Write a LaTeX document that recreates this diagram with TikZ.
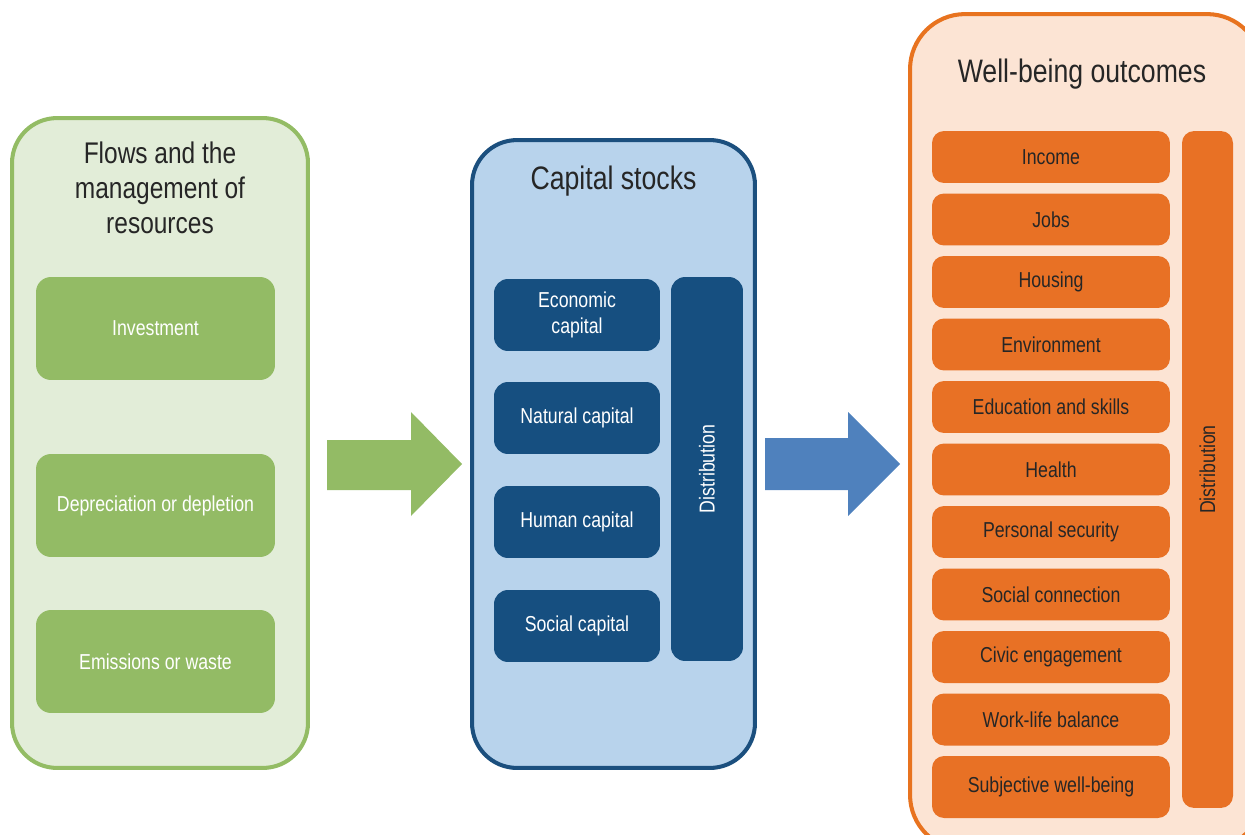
\documentclass[tikz,border=0pt]{standalone}
\usepackage{fontspec}
\setmainfont[FakeStretch=0.82]{Liberation Sans}
\usepackage{xcolor}
\definecolor{greenline}{HTML}{93BC64}
\definecolor{greenback}{HTML}{E2EDD8}
\definecolor{greenbox}{HTML}{93BB65}
\definecolor{blueline}{HTML}{1B4F7E}
\definecolor{blueback}{HTML}{B8D3EC}
\definecolor{bluebox}{HTML}{164F80}
\definecolor{bluearrow}{HTML}{4F81BD}
\definecolor{orangeline}{HTML}{E8731F}
\definecolor{orangeback}{HTML}{FCE4D4}
\definecolor{orangebox}{HTML}{E87125}
\definecolor{ink}{HTML}{262626}
\tikzset{
  panel/.style={rounded corners=0.9cm, line width=2.3pt, inner sep=0pt},
  ptitle/.style={text=ink, font=\fontsize{18.5}{22}\selectfont, align=center},
  itemtxt/.style={font=\fontsize{12.3}{14.8}\selectfont, align=center, inner sep=0pt},
  itemG/.style={itemtxt, fill=greenbox, text=white, rounded corners=0.3cm, minimum width=4.78cm, minimum height=2.06cm},
  itemB/.style={itemtxt, fill=bluebox, text=white, rounded corners=0.28cm, minimum width=3.32cm, minimum height=1.44cm},
  itemO/.style={itemtxt, fill=orangebox, text=ink, rounded corners=0.24cm, minimum width=4.76cm, minimum height=1.04cm},
  arrowG/.style={fill=greenbox},
  arrowB/.style={fill=bluearrow}
}
\begin{document}
\begin{tikzpicture}[x=0.02cm, y=-0.02cm]
  \useasboundingbox (0,0) rectangle (1245,835);
  \clip (0,0) rectangle (1245,835);

  % left panel
  \node[panel, draw=greenline, fill=greenback, minimum width=5.92cm, minimum height=13cm] (flows) at (160,443) {};
  \node[ptitle, font=\fontsize{17}{19.9}\selectfont] (flowsT) at (160,188) {Flows and the\\management of\\resources};
  \node[itemG] (invest) at (155.5,328.5) {Investment};
  \node[itemG] (deprec) at (155.5,505.5) {Depreciation or depletion};
  \node[itemG] (emiss) at (155.5,661.5) {Emissions or waste};

  \fill[arrowG] (327,440) -- (411,440) -- (411,412) -- (462,464) -- (411,516) -- (411,490) -- (327,490) -- cycle;

  % middle panel
  \node[panel, draw=blueline, fill=blueback, minimum width=5.66cm, minimum height=12.56cm] (stocks) at (613.5,454) {};
  \node[ptitle] (stocksT) at (613.5,181) {Capital stocks};
  \node[itemB] (econ) at (577,315) {Economic\\capital};
  \node[itemB] (natur) at (577,418) {Natural capital};
  \node[itemB] (human) at (577,522) {Human capital};
  \node[itemB] (social) at (577,626) {Social capital};
  \node[itemB, minimum width=1.44cm, minimum height=7.68cm] (distB) at (707,469) {};
  \node[itemtxt, text=white, rotate=90] at (distB.center) {Distribution};

  \fill[arrowB] (765,438) -- (848,438) -- (848,412) -- (900,464) -- (848,516) -- (848,490) -- (765,490) -- cycle;

  % right panel
  \node[panel, rounded corners=1.1cm, draw=orangeline, fill=orangeback, minimum width=7.04cm, minimum height=16.72cm] (wellb) at (1086,432) {};
  \node[ptitle] (wellbT) at (1082,74) {Well-being outcomes};
  \node[itemO] (income) at (1051,157) {Income};
  \node[itemO] (jobs) at (1051,219.5) {Jobs};
  \node[itemO] (housing) at (1051,282) {Housing};
  \node[itemO] (envir) at (1051,344.5) {Environment};
  \node[itemO] (educ) at (1051,407) {Education and skills};
  \node[itemO] (health) at (1051,469.5) {Health};
  \node[itemO] (secur) at (1051,532) {Personal security};
  \node[itemO] (connect) at (1051,594.5) {Social connection};
  \node[itemO] (civic) at (1051,657) {Civic engagement};
  \node[itemO] (worklife) at (1051,719.5) {Work-life balance};
  \node[itemO, minimum height=1.24cm] (subject) at (1051,787) {Subjective well-being};
  \node[itemO, minimum width=1.02cm, minimum height=13.54cm] (distO) at (1207.5,469.5) {};
  \node[itemtxt, text=ink, rotate=90] at (distO.center) {Distribution};
\end{tikzpicture}
\end{document}
